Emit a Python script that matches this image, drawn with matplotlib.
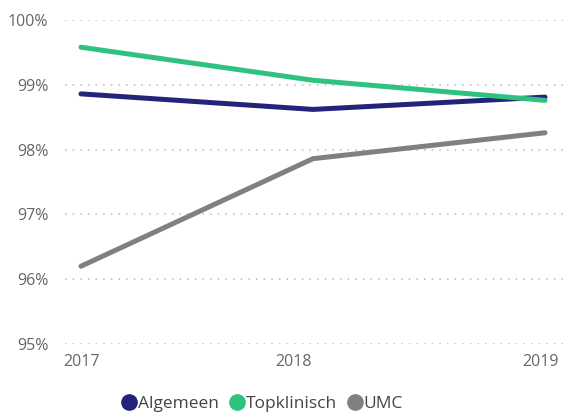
import matplotlib.pyplot as plt
import matplotlib.transforms as mtransforms
from matplotlib.lines import Line2D

years = [2017, 2018, 2019]
algemeen = [98.86, 98.62, 98.81]
topklinisch = [99.58, 99.07, 98.76]
umc = [96.20, 97.86, 98.26]
yticks = [95, 96, 97, 98, 99, 100]

plt.rcParams['font.family'] = ['Open Sans', 'DejaVu Sans']

fig = plt.figure(figsize=(5.63, 4.16), dpi=100)
ax = fig.add_axes([65 / 563, 72 / 416, 498 / 563, 324 / 416])

colors = {'Algemeen': '#23237a', 'Topklinisch': '#2ec27e', 'UMC': '#808080'}
ax.plot(years, algemeen, color=colors['Algemeen'], lw=3.6, solid_capstyle='round')
ax.plot(years, topklinisch, color=colors['Topklinisch'], lw=3.6, solid_capstyle='round')
ax.plot(years, umc, color=colors['UMC'], lw=3.6, solid_capstyle='round')

ax.set_xlim(2017 - 16 / 232, 2019 + 18 / 232)
ax.set_ylim(95, 100)
ax.set_yticks(yticks)
ax.set_yticklabels([f'{t}%' for t in yticks])
ax.set_xticks(years)
ax.set_xticklabels([str(y) for y in years])

for s in ax.spines.values():
    s.set_visible(False)
ax.grid(axis='y', color='#b8b8b8', linestyle=(0, (1, 4)), lw=1.1)
ax.tick_params(length=0, labelsize=11.5, labelcolor='#666666')
ax.tick_params(axis='y', pad=12)
ax.tick_params(axis='x', pad=7)

# Power BI style: middle label sits a bit left, last label near edge
labs = ax.get_xticklabels()
labs[1].set_transform(labs[1].get_transform() + mtransforms.ScaledTranslation(-20 / 100, 0, fig.dpi_scale_trans))
labs[2].set_transform(labs[2].get_transform() + mtransforms.ScaledTranslation(-5 / 100, 0, fig.dpi_scale_trans))

handles = [Line2D([], [], marker='o', linestyle='', markersize=11, color=c) for c in colors.values()]
fig.legend(handles, list(colors.keys()), loc='center', bbox_to_anchor=(262 / 563, 12 / 416),
           ncol=3, frameon=False, handletextpad=0.05, columnspacing=0.6, fontsize=12.5,
           labelcolor='#444444', handlelength=0.9)

fig.savefig('out.png', dpi=100)
